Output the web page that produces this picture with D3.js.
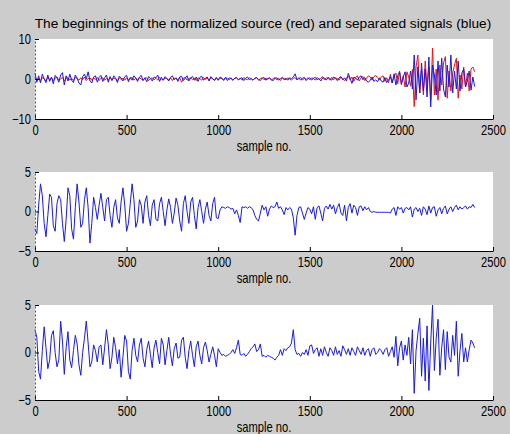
<!DOCTYPE html>
<meta charset="utf-8">
<script src="https://d3js.org/d3.v7.min.js"></script>
<style>
  body { margin: 0; background: #cccccc; }
  text { font-family: "Liberation Sans", Arial, sans-serif; fill: #000; }
</style>
<div id="chart"></div>
<script>
// samples are read every 10 points along "sample no."
var step = 10;
var xTicks = [0, 500, 1000, 1500, 2000, 2500];

// panel 1: source (red) and separated (blue)
var src1 = [
  0.5, -0.3, 0.2, -0.4, 0.3, 0.1, -0.5, 0.4, -0.2, 0.3,
  -0.4, 0.2, 0.5, -0.3, 0.0, 0.4, -0.5, 0.2, 0.3, -0.3,
  0.2, -0.4, 0.4, 0.1, -0.3, 0.3, -0.2, 0.5, -0.4, 0.1,
  0.3, -0.3, 0.2, -0.1, 0.4, -0.4, 0.2, 0.3, -0.3, 0.1,
  -0.2, 0.4, -0.3, 0.2, 0.1, -0.4, 0.3, -0.1, 0.2, -0.3,
  0.3, -0.2, 0.1, 0.4, -0.3, 0.2, -0.2, 0.3, 0.0, -0.3,
  0.2, 0.3, -0.4, 0.1, 0.3, -0.2, 0.2, -0.3, 0.4, 0.0,
  -0.3, 0.2, 0.1, -0.2, 0.3, -0.4, 0.2, 0.1, -0.2, 0.3,
  -0.8, 0.2, 0.4, -0.3, 0.1, 0.3, -0.2, 0.2, -0.4, 0.3,
  0.1, -0.3, 0.4, -0.1, 0.2, -0.3, 0.3, 0.0, -0.2, 0.4,
  -0.3, 0.2, 0.1, -0.4, 0.3, 0.2, -0.2, 0.3, -0.3, 0.1,
  0.3, -0.2, 0.2, -0.3, 0.4, 0.0, -0.2, 0.3, 0.1, -0.3,
  0.2, 0.4, -0.3, 0.1, 0.3, -0.2, 0.2, -0.1, 0.3, -0.3,
  0.1, 0.3, -0.2, 0.2, -0.4, 0.3, 0.1, -0.2, 0.3, 0.0,
  -0.3, 0.2, 0.3, -0.2, 0.1, 0.4, -0.3, 0.2, -0.1, 0.3,
  -0.2, 0.3, 0.1, -0.3, 0.4, -0.1, 0.2, 0.6, -0.2, 0.3,
  0.2, -0.3, 0.4, -0.2, 0.3, 0.1, -0.3, 0.5, 0.0, -0.4,
  0.3, 0.7, -0.2, 0.5, -0.6, 0.4, 0.8, -0.5, 0.3, 0.6,
  -0.4, 0.2, 0.8, 0.5, -0.3, 0.6, 0.9, 0.3, -0.2, 0.5,
  0.8, -0.6, 0.3, -0.9, 1.2, -1.0, 0.6, 1.5, -1.2, 2.0,
  -1.5, 0.8, -2.0, 1.8, 0.5, -1.8, 2.4, -6.9, 3.0, 6.0,
  -3.5, 2.5, -4.0, 4.5, -2.0, 3.0, -5.2, 7.7, -4.0, 2.5,
  -5.3, 3.5, -1.5, 4.0, 5.6, -4.8, 2.0, -3.0, 1.5, 3.5,
  5.2, -4.8, 1.0, -2.5, 3.0, -2.0, 1.5, -3.0, 2.5, 3.0,
  1.8
];
var sep1 = [
  1.5, -0.8, 0.8, -1.0, 1.2, 0.0, -0.9, 1.0, -0.6, 0.5,
  -1.2, 0.9, 0.3, -0.8, 1.0, 1.6, -1.5, 0.8, -0.5, 1.2,
  -0.3, -0.9, 1.0, 0.2, -1.0, -1.5, 0.6, 1.2, 0.0, 1.8,
  -0.5, -1.0, 0.5, 0.8, -0.8, 0.4, 0.9, -0.6, 0.3, 1.0,
  -0.8, 0.6, -0.4, 0.8, 0.2, -0.9, 0.7, 0.3, -0.5, 0.6,
  0.9, -0.7, 0.4, -0.3, 0.8, 0.2, -0.6, 0.5, 0.9, -0.4,
  0.3, -0.7, 0.6, 0.2, -0.5, 0.5, 0.3, 1.0, -0.6, 0.4,
  -0.3, 0.6, 0.1, -0.5, 0.4, 0.8, -0.2, 0.3, -0.6, 0.5,
  0.7, -0.4, 0.2, 0.8, -0.5, 0.3, 0.6, -0.3, 0.5, -0.6,
  0.4, 0.7, -0.3, 0.2, 0.5, -0.5, 0.6, 0.1, -0.4, 0.3,
  -0.3, 0.5, 0.2, -0.2, 0.4, -0.4, 0.3, 0.1, -0.3, 0.2,
  0.4, -0.2, 0.1, 0.3, -0.4, 0.2, 0.5, -0.2, 0.1, -0.3,
  0.2, 0.3, -0.1, -0.4, 0.2, 0.4, -0.3, 0.1, 0.3, -0.2,
  -0.4, 0.2, 0.3, -0.3, 0.1, 0.4, -0.2, 0.2, -0.3, 0.3,
  0.1, 0.5, 1.3, -0.2, 0.3, -0.3, 0.2, 0.4, -0.4, 0.1,
  0.3, -0.3, 0.2, 0.4, -0.2, 0.1, -0.5, 0.3, 0.2, -0.3,
  0.4, 0.1, -0.3, 0.5, 0.2, -0.4, 0.3, 0.6, -0.2, 0.3,
  -0.5, 1.4, 0.2, -1.1, 0.4, 0.3, -0.3, 0.5, 0.8, -0.2,
  0.4, -0.5, -0.8, -0.3, 0.5, -0.6, -0.2, -0.7, 0.3, -0.5,
  -0.8, 0.4, -0.9, -0.3, 0.6, -1.0, 1.3, -1.5, 0.9, 1.8,
  -1.2, 0.5, 1.8, -2.0, -1.0, 2.0, -2.5, 6.0, -5.2, 3.0,
  -3.5, 4.0, -3.0, 2.5, -4.5, 5.5, -7.0, 3.5, 1.0, -4.0,
  4.5, -3.0, 5.2, -2.5, -4.5, 3.5, -2.0, 6.0, -3.5, 2.0,
  -2.5, 4.5, -3.0, 1.5, 2.5, -2.0, -0.5, 2.0, -2.8, 0.5,
  -1.9
];

// panel 2: separated signal (source lies underneath)
var sep2 = [
  -2.2, -2.8, 0.8, 3.5, 2.0, -1.5, -3.2, -0.5, 2.2, 1.8,
  -1.8, -2.5, 1.0, 2.0, 1.5, -1.5, -3.8, -1.0, 3.0, 2.0,
  -2.2, -3.5, 0.5, 3.5, 1.2, -2.0, -1.5, 1.5, 3.0, 0.5,
  -4.0, -1.5, 1.8, 0.5, -1.0, 0.8, 2.3, 0.5, -1.2, 1.5,
  1.8, -0.5, -2.0, 0.5, 1.5, -0.8, -1.5, 1.2, 3.0, 0.8,
  -2.5, -1.5, 1.0, 3.5, 1.5, -2.0, -1.2, 1.5, 0.8, -1.5,
  1.2, 2.0, -0.5, -1.8, 0.8, 1.5, -1.0, -1.2, 1.0, 1.8,
  0.0, -1.8, 0.2, 1.6, 0.5, -1.5, -0.2, 1.7, 0.8, -1.2,
  -2.5, 1.0, 2.0, 0.0, -1.5, 1.2, 1.8, -0.5, -2.2, 0.5,
  1.5, 0.0, -1.5, 0.3, 1.2, -0.5, -1.2, 1.0, 1.8, -0.8,
  -0.9, 0.2, 0.6, 0.5, 0.4, 0.6, 0.5, 0.3, 0.4, -0.3,
  0.2, -0.5, -1.4, 0.6, 0.5, 0.6, 0.4, 0.6, 0.5, 0.2,
  -0.5, -1.0, -1.2, -0.2, 0.8, 0.2, 0.6, -0.6, 0.3, 0.7,
  0.5, 0.6, 1.2, 0.4, 0.6, 0.2, -0.4, 0.5, 0.2, 0.5,
  0.3, -0.8, -3.0, -0.5, 0.5, 0.6, -0.2, -1.0, -0.2, 0.5,
  0.3, -0.3, 0.6, -1.0, 0.5, 0.7, -0.2, -1.2, 0.4, 0.7,
  0.3, 0.9, 0.3, 0.8, -0.3, 0.5, 1.0, -0.2, -0.5, 0.8,
  -1.2, 0.5, 1.0, -0.2, 0.8, 0.5, -0.5, 0.6, 0.7, 0.1,
  0.6, 0.2, 0.5, 0.0, -0.1, 0.0, -0.1, -0.1, -0.1, -0.1,
  -0.1, -0.1, -0.1, -0.1, -0.2, 0.3, 0.5, -0.5, 0.6, 0.3,
  0.5, -0.2, 0.4, 0.5, 0.2, 0.6, -0.7, 0.3, 0.5, 0.0,
  0.4, -0.5, 0.6, 0.3, -0.4, 0.7, -0.2, 0.5, 0.6, -0.6,
  0.2, 0.5, -0.3, 0.4, 0.7, -0.3, 0.3, 0.6, 0.0, 0.5,
  0.8, 0.2, 0.6, 0.3, 0.5, 0.7, 0.3, 0.6, 0.5, 0.9,
  0.5
];

// panel 3: separated signal
var sep3 = [
  2.4, 1.6, -2.0, -2.8, 0.2, 2.7, 0.5, -1.7, -0.8, 1.8,
  2.3, 0.0, -1.5, -0.8, 3.3, 1.2, -2.3, 0.5, 2.2, -0.8,
  -1.6, 0.2, 1.8, 0.9, -1.3, -2.4, 0.0, 1.5, 3.3, 1.0,
  -1.5, -1.0, 0.8, 0.2, -1.0, 0.6, 0.8, -1.3, 0.5, 2.4,
  0.8, -1.7, -0.5, 1.6, 0.5, -1.2, 0.3, -2.6, -0.5, 1.8,
  1.2, -2.0, -2.8, 0.2, 1.5, -0.3, -1.0, 0.8, 1.5, -0.6,
  -1.5, 0.3, 1.2, -0.2, -1.6, 0.5, 1.3, 0.0, -1.2, 1.5,
  0.8, -1.3, 0.2, 1.6, -0.2, -1.4, 0.4, 1.0, -0.6, -0.5,
  1.3, 1.6, -0.5, -1.7, 0.2, 1.2, -0.3, -1.5, 0.6, 1.2,
  -0.3, -1.2, 0.5, 1.1, 0.2, -1.0, -0.2, 0.6, -0.3, -1.5,
  0.4, 0.0, -0.3, -0.2, -0.4, -0.3, -0.2, 0.0, 0.3, -0.1,
  0.5, 1.3, -0.2, -0.3, -0.1, -0.4, -0.2, 0.1, 0.4, 0.6,
  0.9, 0.1, 0.3, 0.9, -0.4, -0.3, -0.5, -0.3, -0.4, -0.5,
  -0.6, -0.8, -0.5, -0.3, 0.3, -0.3, 0.4, 0.2, 0.5, 0.6,
  1.0, 2.4, 0.3, -0.2, -0.1, -0.4, 0.0, -0.2, 0.3, -0.3,
  0.7, 0.8, -0.1, 0.3, 0.5, -0.4, 0.4, -0.3, 0.6, 0.0,
  -0.4, 0.5, 0.2, -0.3, 0.6, -0.2, 0.2, -0.4, 0.7, 0.3,
  -0.2, 0.4, -0.3, 0.5, 0.1, -0.3, 0.6, 0.2, -0.2, 0.5,
  -0.3, 0.2, 0.4, -0.4, 0.3, 0.5, -0.2, 0.0, 0.4, 0.2,
  -0.2, 0.3, 0.5, -0.4, 0.1, 0.6, -0.5, 1.7, -1.4, 0.5,
  1.2, -0.8, 0.8, -0.3, 1.6, -1.2, 2.4, -4.3, 0.2, 2.0,
  3.6, -2.5, 1.5, -3.0, 2.8, -4.0, 1.0, 5.0, -1.9, 1.5,
  3.5, -2.4, 0.5, 2.4, -1.8, 2.2, -0.5, -1.0, 1.8, -0.3,
  3.3, -2.5, 0.2, 2.0, -1.0, 0.5, -1.0, 0.3, 1.3, 1.0,
  0.5
];

var width = 510, height = 434;
var left = 35, right = 493;
var sx = 0.8; // narrow look of the axis text

var panels = [
  {top: 39, bottom: 119, domain: [-10, 10], ticks: [-10, 0, 10],
   lines: [{data: src1, color: "#ee1111"}, {data: sep1, color: "#1a1ae0"}]},
  {top: 172, bottom: 251, domain: [-5, 5], ticks: [-5, 0, 5],
   lines: [{data: sep2, color: "#1a1ae0"}]},
  {top: 305, bottom: 400, domain: [-5, 5], ticks: [-5, 0, 5],
   lines: [{data: sep3, color: "#1a1ae0"}]}
];

var svg = d3.select("#chart")
  .append("svg")
    .attr("width", width)
    .attr("height", height);

svg.append("rect")
  .attr("width", width)
  .attr("height", height)
  .attr("fill", "#cccccc");

var x = d3.scaleLinear()
  .domain([0, 2500])
  .range([left, right]);

panels.forEach(function(p) {
  var y = d3.scaleLinear()
    .domain(p.domain)
    .range([p.bottom, p.top]);

  svg.append("rect")
    .attr("x", left)
    .attr("y", p.top)
    .attr("width", right - left)
    .attr("height", p.bottom - p.top)
    .attr("fill", "#ffffff");

  var line = d3.line()
    .x(function(d, i) { return x(i * step); })
    .y(function(d) { return y(d); });

  p.lines.forEach(function(l) {
    svg.append("path")
      .datum(l.data)
      .attr("fill", "none")
      .attr("stroke", l.color)
      .attr("stroke-width", 1)
      .attr("d", line);
  });

  // X axis, ticks inside
  var gx = svg.append("g")
    .attr("transform", "translate(0," + p.bottom + ")")
    .call(d3.axisBottom(x).tickValues(xTicks).tickFormat(d3.format("d"))
      .tickSizeInner(-4).tickSizeOuter(0).tickPadding(6));
  gx.selectAll("text")
    .attr("font-size", 14)
    .attr("font-family", null)
    .attr("transform", "scale(" + sx + ",1)");

  // Y axis
  var gy = svg.append("g")
    .attr("transform", "translate(" + left + ",0)")
    .call(d3.axisLeft(y).tickValues(p.ticks).tickFormat(d3.format("d"))
      .tickSizeInner(-4).tickSizeOuter(0).tickPadding(5));
  gy.select(".domain").attr("stroke", "#555").attr("stroke-dasharray", "2,2");
  gy.selectAll("text")
    .attr("font-size", 14)
    .attr("font-family", null)
    .attr("transform", "scale(" + sx + ",1)");

  var cx = (left + right) / 2;
  svg.append("text")
    .attr("x", cx / sx)
    .attr("y", p.bottom + 32)
    .attr("text-anchor", "middle")
    .attr("font-size", 14)
    .attr("transform", "scale(" + sx + ",1)")
    .text("sample no.");
});

svg.append("text")
  .attr("x", 263)
  .attr("y", 28)
  .attr("text-anchor", "middle")
  .attr("font-size", 13.7)
  .text("The beginnings of the normalized source (red) and separated signals (blue)");
</script>
